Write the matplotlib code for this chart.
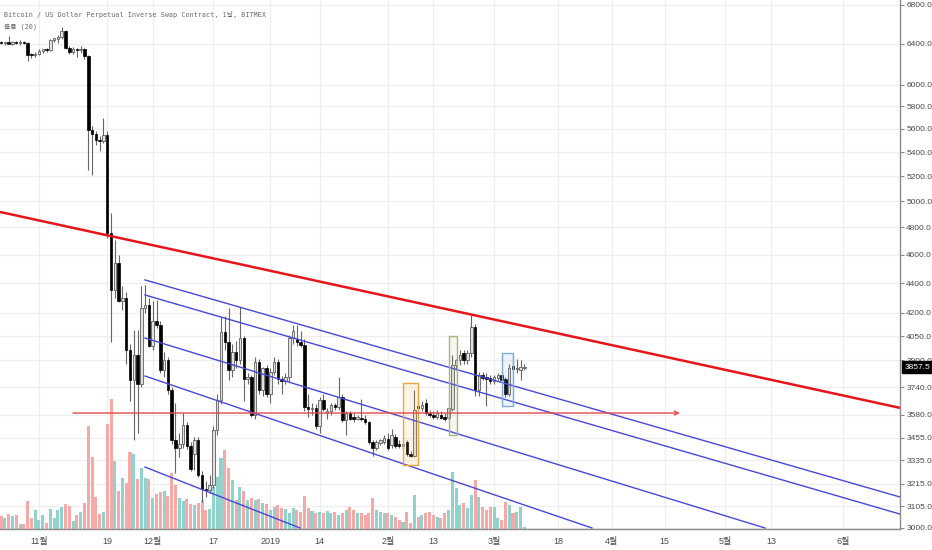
import numpy as np
import matplotlib
matplotlib.use("Agg")
import matplotlib.pyplot as plt
import matplotlib.transforms as mtransforms
from matplotlib.ticker import NullLocator
from matplotlib.patches import Rectangle
from datetime import date, timedelta

# ---------------- data ----------------
REF = date(2018, 11, 1)           # day 0
FIRST = date(2018, 10, 22)        # first candle

opens = [6410, 6405, 6412, 6400, 6410, 6404, 6415, 6405, 6290, 6282,
         6300, 6330, 6342, 6335, 6440, 6446, 6465, 6525, 6360, 6318,
         6342, 6335, 6345, 6275, 5590, 5560, 5505, 5498, 5550, 4760,
         4350, 4540, 4280, 4300, 3960, 3780, 3930, 3760, 4230, 4250,
         3990, 4150, 4121, 3841, 3900, 3723, 3443, 3400, 3420, 3524,
         3410, 3370, 3440, 3259, 3190, 3182, 3209, 3497, 3665, 4073,
         4010, 3841, 3950, 3900, 4040, 3790, 3800, 3580, 3890, 3723,
         3850, 3700, 3830, 3890, 3790, 3775, 3800, 4040, 4030, 4010,
         3995, 3625, 3612, 3620, 3520, 3665, 3590, 3600, 3636, 3625,
         3680, 3550, 3590, 3570, 3560, 3565, 3555, 3540, 3430, 3400,
         3425, 3430, 3450, 3415, 3460, 3420, 3410, 3430, 3370, 3360,
         3630, 3620, 3650, 3590, 3580, 3570, 3580, 3565, 3565, 3615,
         3871, 3900, 3945, 3900, 3945, 4105, 3723, 3811, 3795, 3795,
         3775, 3795, 3810, 3790, 3700, 3865, 3845, 3840, 3850]
highs = [6430, 6420, 6475, 6425, 6430, 6440, 6430, 6420, 6310, 6320,
         6345, 6350, 6352, 6450, 6460, 6485, 6570, 6535, 6372, 6362,
         6360, 6372, 6352, 6285, 5630, 5580, 5540, 5700, 5580, 4910,
         4707, 4600, 4380, 4340, 4000, 4090, 4090, 4380, 4390, 4300,
         4280, 4285, 4150, 3950, 3920, 3740, 3650, 3480, 3590, 3540,
         3430, 3460, 3460, 3280, 3230, 3260, 3520, 3700, 4170, 4180,
         4230, 4000, 4020, 4240, 4050, 3820, 3810, 3920, 3910, 3860,
         3870, 3850, 3920, 3910, 3805, 3820, 4060, 4120, 4120, 4080,
         4030, 3700, 3650, 3640, 3680, 3700, 3620, 3650, 3650, 3800,
         3700, 3600, 3600, 3590, 3580, 3670, 3580, 3545, 3440, 3440,
         3450, 3470, 3480, 3500, 3475, 3440, 3430, 3440, 3385, 3723,
         3680, 3660, 3670, 3610, 3600, 3610, 3600, 3590, 3625, 3930,
         3910, 3960, 3960, 3960, 4186, 4130, 3830, 3830, 3820, 3810,
         3810, 3820, 3830, 3800, 3880, 3930, 3910, 3900, 3875]
lows = [6395, 6390, 6398, 6385, 6395, 6390, 6395, 6230, 6260, 6270,
        6290, 6310, 6318, 6325, 6420, 6410, 6450, 6350, 6300, 6300,
        6265, 6310, 6250, 5250, 5210, 5460, 5410, 5480, 4720, 4010,
        4300, 4270, 4220, 3880, 3660, 3445, 3480, 3740, 4200, 3980,
        3960, 4100, 3820, 3800, 3700, 3420, 3270, 3350, 3400, 3395,
        3280, 3285, 3250, 3125, 3150, 3170, 3195, 3470, 3640, 3960,
        3780, 3800, 3850, 3880, 3660, 3760, 3570, 3560, 3700, 3690,
        3680, 3650, 3810, 3760, 3700, 3760, 3770, 4000, 3990, 3980,
        3600, 3570, 3580, 3500, 3480, 3600, 3560, 3580, 3610, 3610,
        3540, 3470, 3550, 3540, 3550, 3545, 3530, 3420, 3360, 3390,
        3415, 3420, 3390, 3400, 3400, 3400, 3395, 3360, 3350, 3350,
        3580, 3600, 3580, 3570, 3560, 3555, 3555, 3545, 3550, 3600,
        3840, 3870, 3880, 3880, 3920, 3690, 3690, 3780, 3630, 3760,
        3760, 3780, 3770, 3680, 3690, 3830, 3820, 3780, 3840]
closes = [6405, 6412, 6400, 6410, 6404, 6415, 6405, 6290, 6282, 6300,
          6330, 6342, 6335, 6440, 6446, 6465, 6525, 6360, 6318, 6342,
          6335, 6345, 6275, 5590, 5560, 5505, 5498, 5550, 4760, 4350,
          4540, 4280, 4300, 3960, 3780, 3930, 3760, 4230, 4250, 3990,
          4150, 4121, 3841, 3900, 3723, 3443, 3400, 3420, 3524, 3410,
          3290, 3440, 3259, 3190, 3182, 3209, 3497, 3665, 4073, 4010,
          3841, 3950, 3900, 4040, 3790, 3800, 3580, 3890, 3723, 3850,
          3700, 3830, 3890, 3790, 3775, 3800, 4040, 4080, 4010, 3995,
          3625, 3612, 3620, 3520, 3665, 3612, 3600, 3636, 3625, 3680,
          3550, 3590, 3560, 3560, 3565, 3555, 3540, 3430, 3400, 3430,
          3440, 3455, 3400, 3470, 3410, 3410, 3420, 3370, 3360, 3610,
          3620, 3636, 3590, 3580, 3570, 3590, 3565, 3560, 3620, 3871,
          3900, 3932, 3900, 3945, 4105, 3723, 3811, 3795, 3790, 3775,
          3800, 3810, 3780, 3700, 3850, 3845, 3855, 3860, 3857.5]
volumes = [13, 11, 15, 13, 14, 5, 5, 28, 11, 19, 9, 14, 6, 20, 11, 19, 22, 25, 23, 8, 14, 17, 26,
           103, 72, 32, 15, 17, 105, 130, 68, 38, 51, 46, 77, 75, 50, 61, 51, 50,
           31, 35, 37, 38, 33, 56, 44, 31, 28, 30, 25, 24, 26, 29,
           19, 20, 42, 52, 71, 79, 61, 49, 29,
           42, 38, 29, 31, 29, 30, 26, 25, 19, 22, 24, 21, 20, 16, 21, 19, 17, 33,
           21, 18, 16, 17, 16, 18, 16, 17, 14, 16, 19, 22, 19, 16, 16, 14, 16, 31, 19,
           17, 16, 16, 14, 12, 9, 7, 17, 6,
           34, 12, 14, 16, 17, 14, 12, 11, 16, 19, 57, 41, 24, 26, 21, 34, 49, 32, 22,
           19, 22, 22, 11, 9, 27, 24, 16, 17, 22, 2]

price_ticks = [6800, 6400, 6000, 5800, 5600, 5400, 5200, 5000, 4800, 4600, 4400,
               4200, 4050, 3900, 3740, 3580, 3455, 3335, 3215, 3105, 3000]
date_ticks = [date(2018, 11, 1), date(2018, 11, 19), date(2018, 12, 1), date(2018, 12, 17),
              date(2019, 1, 1), date(2019, 1, 14), date(2019, 2, 1), date(2019, 2, 13),
              date(2019, 3, 1), date(2019, 3, 18), date(2019, 4, 1), date(2019, 4, 15),
              date(2019, 5, 1), date(2019, 5, 13), date(2019, 6, 1)]
date_labels = ["11월", "19", "12월", "17", "2019", "14", "2월", "13", "3월", "18",
               "4월", "15", "5월", "13", "6월"]
last_price = 3857.5

# drawn lines: (day0, price0, day1, price1)
red_trend = (-10.28, 4918, 227.06, 3620)
red_level = (8.97, 3591, 169.0, 3591)
blue_lines = [(27.95, 4422, 227.06, 3149),
              (27.95, 4319, 227.06, 3066),
              (27.95, 4038, 191.46, 3000),
              (27.95, 3805, 145.83, 3000),
              (27.95, 3300, 68.83, 3000)]
# highlight boxes: (day0, day1, price_low, price_high, colour)
boxes = [(96.0, 100.0, 3311, 3764, "#f4a23c"),
         (108.1, 110.2, 3470, 4050, "#a9b57c"),
         (122.1, 125.0, 3630, 3945, "#7ea9da")]

title = "Bitcoin / US Dollar Perpetual Inverse Swap Contract, 1날, BITMEX"
vol_title = "볼륨 (20)"

# ---------------- drawing ----------------
O = np.array(opens, float); H = np.array(highs, float)
L = np.array(lows, float); C = np.array(closes, float)
V = np.array(volumes, float)
n = len(O)
days = np.array([(FIRST + timedelta(i) - REF).days for i in range(n)], float)

W, Hpx = 932, 550
fig = plt.figure(figsize=(W / 100, Hpx / 100), dpi=100)
pos = [0, 21 / Hpx, 900 / W, 529 / Hpx]
xlim = (-10.28, 227.06)
ylim = (2995.3, 6851)

lab_font = ["Liberation Sans", "Noto Sans CJK KR", "DejaVu Sans"]
mono_font = ["DejaVu Sans Mono", "Noto Sans CJK KR"]

# grid layer
axg = fig.add_axes(pos)
axg.set_yscale("log")
axg.set_xlim(xlim); axg.set_ylim(ylim)
axg.yaxis.set_minor_locator(NullLocator())
axg.set_yticks(price_ticks)
axg.set_xticks([(d - REF).days for d in date_ticks])
axg.tick_params(length=0, labelleft=False, labelbottom=False)
axg.grid(True, color="#eeeeee", lw=0.9)
for s in axg.spines.values():
    s.set_visible(False)

# volume layer
axv = fig.add_axes(pos, facecolor="none")
axv.set_xlim(xlim); axv.set_ylim(0, 529)
vcol = np.where(C >= O, "#92d2cc", "#f7a9a7")
axv.bar(days, V, width=0.8, color=vcol, linewidth=0)
axv.axis("off")

# price layer
ax = fig.add_axes(pos, facecolor="none")
ax.set_yscale("log")
ax.set_xlim(xlim); ax.set_ylim(ylim)

up = C >= O
body_lo = np.minimum(O, C)
body_h = np.maximum(np.abs(C - O), 0.0018 * body_lo)
ax.vlines(days, L, H, color="#666666", lw=0.8, zorder=2)
ax.bar(days[up], body_h[up], bottom=body_lo[up], width=0.66,
       color="#e2e2e2", edgecolor="#5e5e5e", linewidth=0.6, zorder=3)
ax.bar(days[~up], body_h[~up], bottom=body_lo[~up], width=0.66,
       color="#000000", edgecolor="#000000", linewidth=0.5, zorder=3)

for (x0, p0, x1, p1) in blue_lines:
    ax.plot([x0, x1], [p0, p1], color="#4848d8", lw=1.0, zorder=4)
ax.plot([red_trend[0], red_trend[2]], [red_trend[1], red_trend[3]],
        color="#e8141b", lw=1.8, zorder=5, solid_capstyle="butt")
ax.annotate("", xy=(red_level[2], red_level[3]), xytext=(red_level[0], red_level[1]),
            arrowprops=dict(arrowstyle="->", color="#e5484d", lw=1.0,
                            shrinkA=0, shrinkB=0, mutation_scale=7), zorder=5)
for (d0, d1, plo, phi, col) in boxes:
    ax.add_patch(Rectangle((d0, plo), d1 - d0, phi - plo, fill=True,
                           facecolor=col, alpha=0.12, edgecolor="none", zorder=4))
    ax.add_patch(Rectangle((d0, plo), d1 - d0, phi - plo, fill=False,
                           edgecolor=col, lw=1.0, zorder=4))

# axes styling
ax.yaxis.tick_right()
ax.yaxis.set_minor_locator(NullLocator())
ax.set_yticks(price_ticks)
ax.set_yticklabels([f"{p:.1f}" for p in price_ticks], family=lab_font)
ax.set_xticks([(d - REF).days for d in date_ticks])
ax.set_xticklabels(date_labels, family=lab_font)
ax.tick_params(axis="y", length=3, width=0.8, color="#888888", labelsize=6,
               labelcolor="#4a4a4a", pad=1.5)
ax.tick_params(axis="x", length=0, labelsize=6.5, labelcolor="#4a4a4a", pad=6)
for s in ["top", "left"]:
    ax.spines[s].set_visible(False)
for s in ["right", "bottom"]:
    ax.spines[s].set_color("#8c8c8c")
    ax.spines[s].set_linewidth(1.0)

# last price tag
trans = mtransforms.blended_transform_factory(ax.transAxes, ax.transData)
ax.annotate(f"{last_price:.1f}", xy=(1.0, last_price), xycoords=trans,
            xytext=(3.2, 0), textcoords="offset points", ha="left", va="center",
            color="white", fontsize=6, family=lab_font, annotation_clip=False, zorder=20,
            bbox=dict(boxstyle="square,pad=0.3", fc="black", ec="black"))

# titles
fig.text(4 / W, 1 - 14 / Hpx, title, ha="left", va="center", fontsize=4.9,
         color="#6a6a6a", family=mono_font)
fig.text(4 / W, 1 - 27 / Hpx, vol_title, ha="left", va="center", fontsize=4.9,
         color="#6a6a6a", family=mono_font)

fig.savefig("out.png", dpi=100, facecolor="white")
